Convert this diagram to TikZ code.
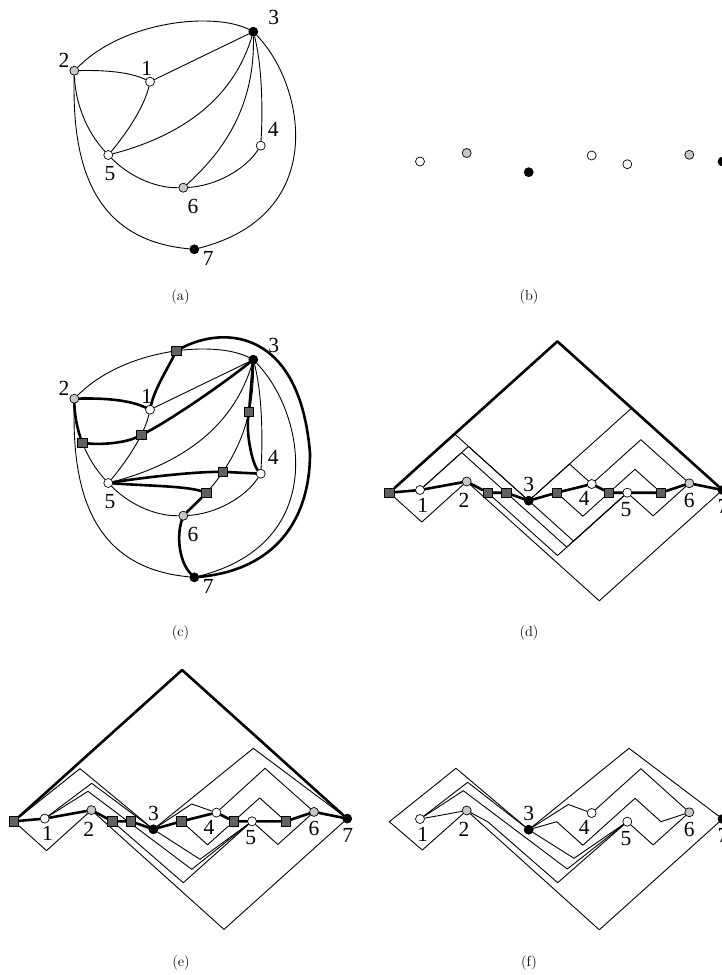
\documentclass[tikz,border=0pt]{standalone}
\usepackage{fontspec}
\newfontfamily\lblfont{Liberation Serif}
\usetikzlibrary{backgrounds}

\tikzset{
  wv/.style={circle,draw,fill=white,inner sep=0pt,minimum size=9pt,line width=0.7pt},
  gv/.style={wv,fill=black!22},
  bv/.style={wv,fill=black},
  sq/.style={rectangle,draw,fill=black!62,inner sep=0pt,minimum size=9.5pt,line width=0.7pt},
  lbl/.style={font=\lblfont\fontsize{21.5}{24}\selectfont,inner sep=0pt},
  captext/.style={font=\fontsize{14.5}{17}\selectfont,inner sep=0pt},
  edgeline/.style={line width=0.9pt},
  pathline/.style={line width=2.6pt,line join=round,line cap=round},
}

\begin{document}
\begin{tikzpicture}[x=1pt,y=-1pt]
\useasboundingbox (0,0) rectangle (722,975);
\clip (0,0) rectangle (722,975);

% ==== (a) AND (c): THE PLANE GRAPH ====
\foreach \p/\dy in {a/0,c/328}{
\begin{scope}[shift={(0,\dy)}]
  \node[wv] (\p1) at (150,81.7) {};
  \node[gv] (\p2) at (74.3,70.7) {};
  \node[bv] (\p3) at (253.3,31.7) {};
  \node[wv] (\p4) at (260.7,145.7) {};
  \node[wv] (\p5) at (108.3,155) {};
  \node[gv] (\p6) at (183.3,187.7) {};
  \node[bv] (\p7) at (194.3,249.3) {};
  \node[lbl] (\p l1) at (146.7,68.3) {1};
  \node[lbl] (\p l2) at (64,60) {2};
  \node[lbl] (\p l3) at (273.7,17) {3};
  \node[lbl] (\p l4) at (273.3,129) {4};
  \node[lbl] (\p l5) at (110,174) {5};
  \node[lbl] (\p l6) at (193,206.7) {6};
  \node[lbl] (\p l7) at (208.3,258.7) {7};
  \begin{scope}[on background layer={edgeline}]
    \draw (\p2) .. controls (125,20) and (215,12) .. (\p3) coordinate[pos=0.54] (\p s1);
    \draw (\p2) .. controls (105,70) and (130,72) .. (\p1);
    \draw (\p1) -- (\p3);
    \draw (\p1) .. controls (144,108) and (125,135) .. (\p5) coordinate[pos=0.3] (\p s4);
    \draw (\p2) .. controls (75,100) and (85,130) .. (\p5) coordinate[pos=0.5] (\p s3);
    \draw (\p5) .. controls (165,140) and (230,110) .. (\p3);
    \draw (\p5) .. controls (125,172) and (150,188) .. (\p6);
    \draw (\p6) .. controls (225,150) and (255,105) .. (\p3)
      coordinate[pos=0.18] (\p s6) coordinate[pos=0.35] (\p s5) coordinate[pos=0.75] (\p s2);
    \draw (\p6) .. controls (215,186) and (245,170) .. (\p4);
    \draw (\p4) .. controls (263,110) and (262,65) .. (\p3);
    \draw (\p3) .. controls (305,85) and (330,215) .. (\p7);
    \draw (\p2) .. controls (72,160) and (90,240) .. (\p7);
  \end{scope}
\end{scope}}

% ==== (c): SUBDIVISION VERTICES AND THE CYCLE ====
\foreach \s in {s1,s2,s3,s4,s5,s6}
  \node[sq] (q\s) at (c\s) {};
\begin{scope}[shift={(0,328)}]
  \begin{scope}[on background layer={pathline}]
    \draw (qs1) .. controls (168,40) and (155,60) .. (c1);
    \draw (c2) .. controls (105,70) and (130,72) .. (c1);
    \draw (c2) .. controls (74.5,85.5) and (77,100.3) .. (qs3);
    \draw (qs3) .. controls (100,117) and (125,115) .. (qs4);
    \draw (qs4) .. controls (165,95) and (215,62) .. (c3);
    \draw (c3) -- (qs2);
    \draw (qs2) .. controls (246,105) and (252,135) .. (c4);
    \draw (c4) -- (qs5);
    \draw (qs5) .. controls (190,144) and (140,150) .. (c5);
    \draw (c5) .. controls (150,158) and (185,158) .. (qs6);
    \draw (qs6) -- (c6);
    \draw (c6) .. controls (176,210) and (180,235) .. (c7);
    \draw (qs1) .. controls (225,-3) and (300,2) .. (310,125.3)
      .. controls (310,192) and (275,242) .. (c7);
  \end{scope}
\end{scope}

% ==== (b) AND (f): VERTICES ON THE LINE ====
\foreach \p/\dy in {b/-328.5,f/329}{
\begin{scope}[shift={(0,\dy)}]
  \foreach \n/\x/\y/\s in {1/420/490/wv, 2/466.7/481.5/gv, 3/528.7/500.7/bv,
      4/591.7/484/wv, 5/627.3/492.7/wv, 6/689.3/483.3/gv, 7/722.5/490/bv}
    \node[\s] (\p\n) at (\x,\y) {};
\end{scope}}

% ==== (d) AND (e): VERTICES AND SUBDIVISIONS ON THE LINE ====
\foreach \p/\dx/\dy in {d/0/0,e/-375.3/328.6}{
\begin{scope}[shift={(\dx,\dy)}]
  \foreach \n/\x/\y/\s in {s1/389.3/492.7/sq, 1/420/490/wv, 2/466.7/481.5/gv,
      s3/487.7/492.7/sq, s4/506.3/492.7/sq, 3/528.7/500.7/bv, s2/556.7/492.7/sq,
      4/591.7/484/wv, s5/609/492.7/sq, 5/627.3/492.7/wv, s6/661/492.7/sq,
      6/689.3/483.3/gv, 7/722.5/490/bv}
    \node[\s] (\p\n) at (\x,\y) {};
  \begin{scope}[on background layer={pathline}]
    \draw (\p s1) -- (557.4,341.4) -- (\p7);
    \draw (\p s1) -- (\p1) -- (\p2) -- (\p s3) -- (\p s4) -- (\p3) -- (\p s2)
      -- (\p4) -- (\p s5) -- (\p5) -- (\p s6) -- (\p6) -- (\p7);
  \end{scope}
\end{scope}}

% ==== labels on the line ====
\foreach \p/\dx/\dy in {d/0/0,e/-375.3/328.6,f/0/329}{
\begin{scope}[shift={(\dx,\dy)}]
  \foreach \n/\x/\y in {1/422.7/505, 2/464/500.5, 3/528.7/484.7, 4/584.3/498.5,
      5/626/509.3, 6/689.3/500.3, 7/723/506.4}
    \node[lbl] (\p l\n) at (\x,\y) {\n};
\end{scope}}

% ==== (d): EDGES ON TWO PAGES ====
\begin{scope}[on background layer={edgeline}]
  \draw (ds1) -- (421.8,522) -- (d2);
  \draw (ds1) -- (454.6,433.9) -- (d3);
  \draw (d1) -- (468.4,446.4) -- (d3);
  \draw (d1) -- (461.65,452.5) -- (ds4);
  \draw (d3) -- (631.5,408.2) -- (d7);
  \draw (d3) -- (569.5,464) -- (d4);
  \draw (d4) -- (640.9,439.7) -- (d6);
  \draw (ds5) -- (635,469.3) -- (ds6);
  \draw (d3) -- (573.6,541.1) -- (d5);
  \draw (ds4) -- (566.8,547.15) -- (d5);
  \draw (ds3) -- (557.5,555.5) -- (d5);
  \draw (d2) -- (599.3,600.8) -- (d7);
  \draw (d5) -- (653.1,515.9) -- (d6);
  \draw (ds2) -- (582.85,516.2) -- (ds5);
\end{scope}

% ==== (e): EDGES MOVED TO THE VERTICES ====
\begin{scope}[shift={(-375.3,328.6)},on background layer={edgeline}]
  \draw (es1) -- (421.8,522) -- (e2);
  \draw (es1) -- (455.3,440) -- (e3);
  \draw (e1) -- (467,454.7) -- (e3);
  \draw (e1) -- (463.3,462.7) -- (567,540.7) -- (e5);
  \draw (es3) -- (558.6,554.1) -- (e5);
  \draw (e3) -- (575.3,530.7) -- (e5);
  \draw (es2) -- (582.85,516.2) -- (es5) -- (635,469.3) -- (es6);
  \draw (e3) -- (567,475.4) -- (e4);
  \draw (e3) -- (628.6,419.7) -- (e7);
  \draw (e4) -- (640.3,439.7) -- (e6);
  \draw (e5) -- (653.1,515.9) -- (e6);
  \draw (e2) -- (599.3,600.8) -- (e7);
\end{scope}

% ==== (f): FINAL DRAWING ====
\begin{scope}[shift={(0,329)},on background layer={edgeline}]
  \draw (f2) -- (422.3,521) -- (389.3,492.7) -- (456,439.3) -- (f3);
  \draw (f1) -- (f2);
  \draw (f1) -- (467.7,453.3) -- (f3);
  \draw (f1) -- (463.3,461.7) -- (567.3,540) -- (f5);
  \draw (f2) -- (487.7,492.7) -- (557.7,553.7) -- (f5);
  \draw (f3) -- (574,529.3) -- (f5);
  \draw (f3) -- (556.7,492.7) -- (582.85,516.2) -- (609,492.7) -- (635,469.3)
    -- (661,492.7) -- (f6);
  \draw (f3) -- (568.3,475.5) -- (f4);
  \draw (f3) -- (629,419.3) -- (f7);
  \draw (f4) -- (640.9,439.7) -- (f6);
  \draw (f5) -- (653.1,515.9) -- (f6);
  \draw (f2) -- (599.3,600.8) -- (f7);
\end{scope}

% ==== Captions ====
\node[captext] (capa) at (180.5,297) {(a)};
\node[captext] (capb) at (529,297) {(b)};
\node[captext] (capc) at (180.5,633) {(c)};
\node[captext] (capd) at (529,633) {(d)};
\node[captext] (cape) at (181,963) {(e)};
\node[captext] (capf) at (529,963) {(f)};
\end{tikzpicture}
\end{document}
